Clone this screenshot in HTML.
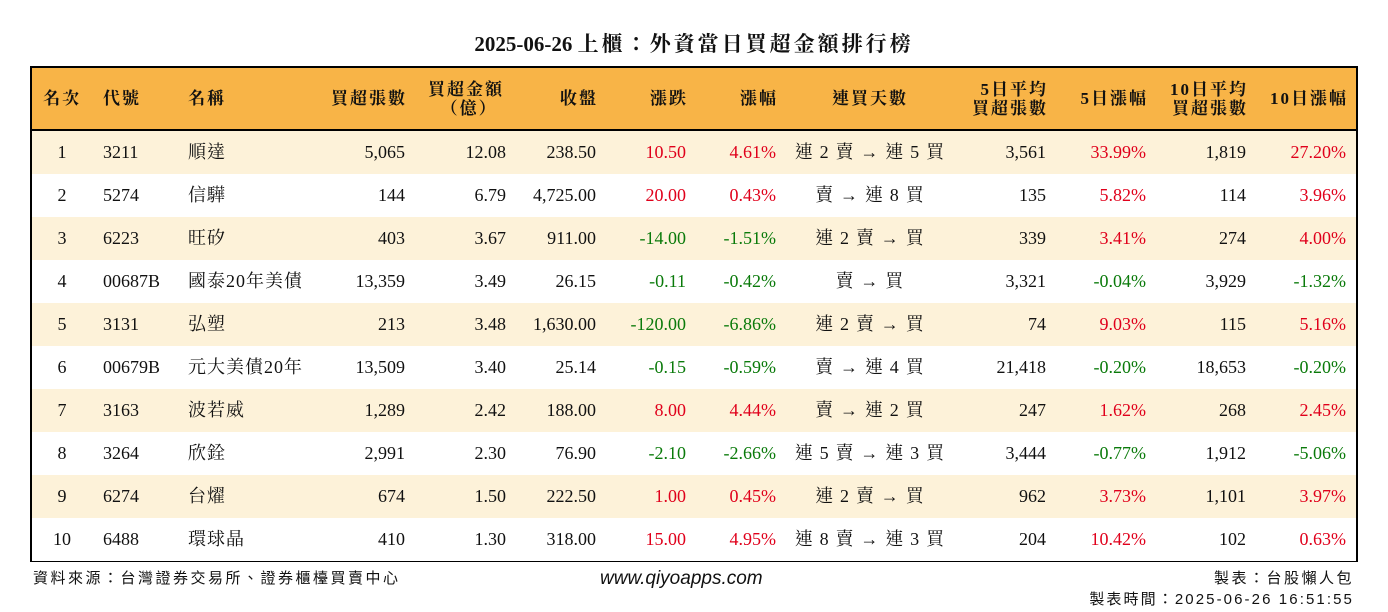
<!DOCTYPE html>
<html><head><meta charset="utf-8"><style>
body{margin:0;width:1388px;height:612px;background:#fff;position:relative;font-family:"Liberation Serif","Noto Serif CJK TC",serif;color:#111;overflow:hidden}
.a{position:absolute;white-space:nowrap}
#title{left:0;width:1388px;top:28px;text-align:center;font-size:21px;font-weight:bold}
#title span{letter-spacing:3px}
#tbl{position:absolute;left:30px;top:66px;width:1324px;height:492px;border:2px solid #000}
#hdr{position:absolute;left:0;top:0;width:1324px;height:61px;background:#f8b447;border-bottom:2px solid #000}
.row{position:absolute;left:0;width:1324px;height:43px}
.c{position:absolute;font-size:18px;line-height:43px;white-space:nowrap}
.h{position:absolute;font-size:17px;font-weight:bold;line-height:19px;white-space:nowrap;top:0;height:61px;display:flex;align-items:center;letter-spacing:2px}
.sp{letter-spacing:1px}
.st{letter-spacing:1.2px}
.r{color:#e0001b}.g{color:#0a7a0a}
.foot{font-size:15px;font-family:"Liberation Sans","Noto Sans CJK TC",sans-serif;letter-spacing:2.5px}
</style></head><body>
<div class="a" id="title">2025-06-26 <span>上櫃：外資當日買超金額排行榜</span></div>
<div id="tbl">
<div id="hdr"></div>
</div>
<div class="a foot" style="left:33px;top:567px">資料來源：台灣證券交易所、證券櫃檯買賣中心</div>
<div class="a" style="left:600px;top:568px;font-family:'Liberation Sans',sans-serif;font-style:italic;font-size:19px">www.qiyoapps.com</div>
<div class="a foot" style="right:34px;top:567px">製表：台股懶人包</div>
<div class="a foot" style="right:34px;top:588px;letter-spacing:2.1px">製表時間：2025-06-26 16:51:55</div>
<script>
const ranks=["1","2","3","4","5","6","7","8","9","10"];
const codes=["3211","5274","6223","00687B","3131","00679B","3163","3264","6274","6488"];
const names=["順達","信驊","旺矽","國泰20年美債","弘塑","元大美債20年","波若威","欣銓","台燿","環球晶"];
const buyLots=["5,065","144","403","13,359","213","13,509","1,289","2,991","674","410"];
const buyAmt=["12.08","6.79","3.67","3.49","3.48","3.40","2.42","2.30","1.50","1.30"];
const closes=["238.50","4,725.00","911.00","26.15","1,630.00","25.14","188.00","76.90","222.50","318.00"];
const changes=["10.50","20.00","-14.00","-0.11","-120.00","-0.15","8.00","-2.10","1.00","15.00"];
const pcts=["4.61%","0.43%","-1.51%","-0.42%","-6.86%","-0.59%","4.44%","-2.66%","0.45%","4.95%"];
const streaks=["連 2 賣 → 連 5 買","賣 → 連 8 買","連 2 賣 → 買","賣 → 買","連 2 賣 → 買","賣 → 連 4 買","賣 → 連 2 買","連 5 賣 → 連 3 買","連 2 賣 → 買","連 8 賣 → 連 3 買"];
const avg5=["3,561","135","339","3,321","74","21,418","247","3,444","962","204"];
const pct5=["33.99%","5.82%","3.41%","-0.04%","9.03%","-0.20%","1.62%","-0.77%","3.73%","10.42%"];
const avg10=["1,819","114","274","3,929","115","18,653","268","1,912","1,101","102"];
const pct10=["27.20%","3.96%","4.00%","-1.32%","5.16%","-0.20%","2.45%","-5.06%","3.97%","0.63%"];
const tbl=document.getElementById('tbl'),hdr=document.getElementById('hdr');
const OX=32;
const cols=[[ranks,'c',62,0,'rank'],[codes,'l',103,0,'code'],[names,'l',188,0,'name'],[buyLots,'r',405,0,'buy-lots'],[buyAmt,'r',506,0,'buy-amount'],[closes,'r',596,0,'close'],[changes,'r',686,1,'change'],[pcts,'r',776,1,'change-pct'],[streaks,'c',870,0,'streak'],[avg5,'r',1046,0,'avg5-lots'],[pct5,'r',1146,1,'pct5'],[avg10,'r',1246,0,'avg10-lots'],[pct10,'r',1346,1,'pct10']];
const heads=["名次","代號","名稱","買超張數","買超金額<br>&nbsp;（億）","收盤","漲跌","漲幅","連買天數","5日平均<br>買超張數","5日漲幅","10日平均<br>買超張數","10日漲幅"];
function place(el,al,x){
 const lx=x-OX;
 if(al==='l')el.style.left=lx+'px';
 else if(al==='r')el.style.right=(1324-lx)+'px';
 else{el.style.left=(lx-150)+'px';el.style.width='300px';el.style.justifyContent='center';el.style.textAlign='center';}
}
cols.forEach((c,i)=>{
 const h=document.createElement('div');h.className='h';h.innerHTML=heads[i];
 
 
 let al=c[1];let x=c[2];
 if(i===4){al='c';x=466;}
 if(al==='r'){x+=2;}
 place(h,al,x);if(al!=='c')h.style.textAlign='right';
 hdr.appendChild(h);
});
for(let r=0;r<ranks.length;r++){
 const row=document.createElement('div');row.className='row';
 
 
 row.style.top=(63+r*43)+'px';
 row.style.background=r%2===0?'#fdf2d9':'#fff';
 cols.forEach(c=>{
  const d=document.createElement('div');d.className='c';
  
  
  const v=c[0][r];d.textContent=v;
  if(c[3])d.classList.add(v.startsWith('-')?'g':'r');
  if(c[4]==='name')d.classList.add('sp');
  if(c[4]==='streak')d.classList.add('st');
  place(d,c[1],c[2]);
  row.appendChild(d);
 });
 tbl.appendChild(row);
}
</script>
</body></html>
